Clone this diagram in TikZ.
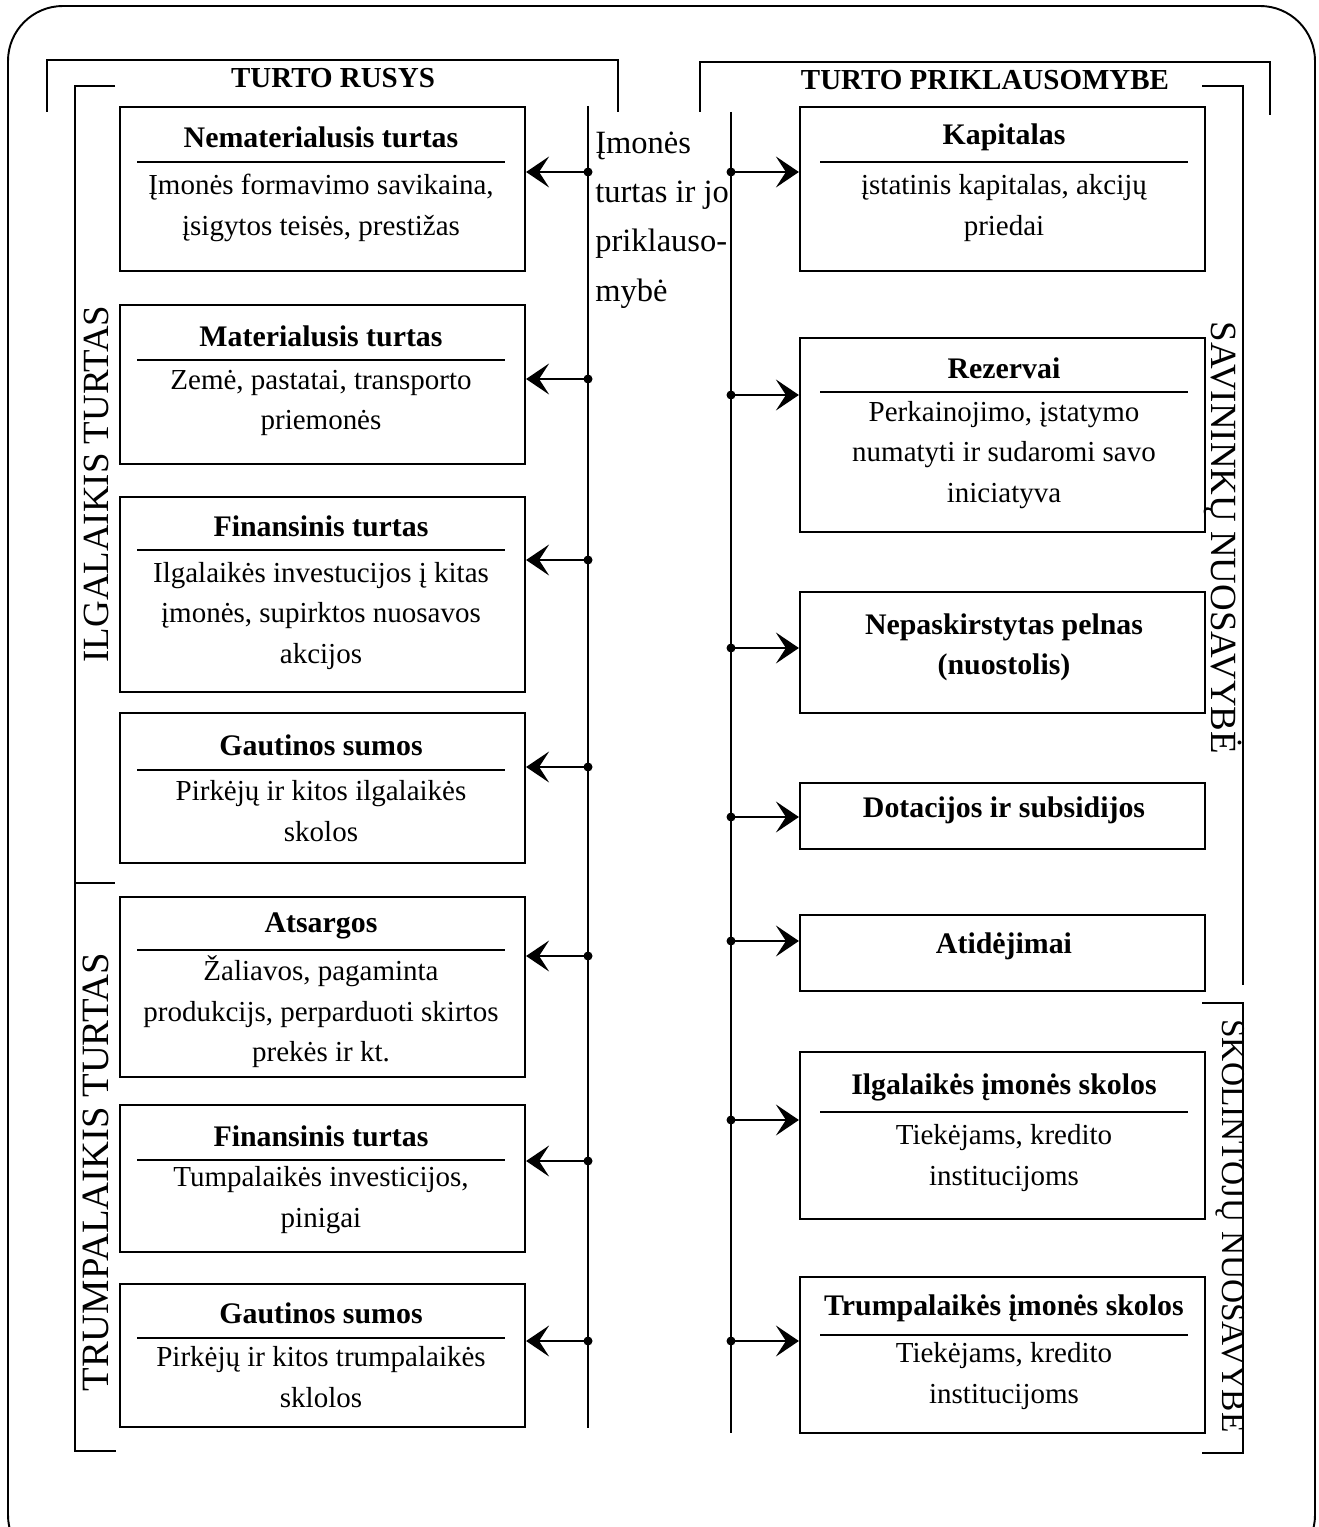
\documentclass[tikz,border=0pt]{standalone}
\usepackage{fontspec}
\setmainfont{Liberation Serif}
\usetikzlibrary{arrows.meta}

\tikzset{
  box/.style={draw, line width=1.3pt, minimum width=8.1cm, inner sep=0pt},
  head/.style={font=\fontsize{17}{23}\selectfont\bfseries, align=center, inner sep=0pt},
  body/.style={font=\fontsize{16.5}{23}\selectfont, align=center, inner sep=0pt},
  rulebar/.style={line width=1.2pt},
  bracket/.style={line width=1.2pt},
  trunk/.style={line width=1.1pt},
  link/.style={line width=1.1pt, -{Stealth[length=0.46cm, width=0.62cm, inset=0.2cm]}},
  side/.style={font=\fontsize{21}{24}\selectfont, inner sep=0pt},
}

\begin{document}
\begin{tikzpicture}[x=0.02cm, y=-0.02cm]
    \useasboundingbox (0,0) rectangle (1318,1527);

    % Frame
    \draw[line width=1.1pt, rounded corners=1.1cm] (8,6) rectangle (1315,1570);

    % Headings
    \draw[bracket] (47,112) -- (47,60) -- (618,60) -- (618,112);
    \node[head, font=\fontsize{16.5}{20}\selectfont\bfseries] (rusys) at (333,78) {TURTO RUSYS};
    \draw[bracket] (700,112) -- (700,62) -- (1270,62) -- (1270,115);
    \node[head, font=\fontsize{16.5}{20}\selectfont\bfseries] (priklaus) at (985,80) {TURTO PRIKLAUSOMYBE};

    % Side brackets
    \draw[bracket] (115,86) -- (75,86) -- (75,1451) -- (116,1451);
    \draw[bracket] (75,883) -- (115,883);
    \draw[bracket] (1202,86) -- (1243,86) -- (1243,985);
    \draw[bracket] (1202,1003) -- (1243,1003) -- (1243,1453) -- (1202,1453);

    % Side labels
    \node[side, rotate=90] (ilgal) at (96,484) {ILGALAIKIS TURTAS};
    \node[side, rotate=90, font=\fontsize{22}{24}\selectfont] (trump) at (96,1172) {TRUMPALAIKIS TURTAS};
    \node[side, rotate=-90] (savin) at (1223,538) {SAVININKŲ NUOSAVYBĖ};
    \node[side, rotate=-90, font=\fontsize{19}{24}\selectfont] (skolin) at (1230,1226) {SKOLINTOJŲ NUOSAVYBE};

    % Centre text and trunks
    \node[body, font=\fontsize{18.5}{28}\selectfont, align=left, anchor=west] (imone) at (595,220) {Įmonės\\turtas ir jo\\priklauso-\\mybė};
    \draw[trunk] (588,106) -- (588,1428);
    \draw[trunk] (731,112) -- (731,1433);

    % Left column: turto rusys
    \node[box, minimum height=3.28cm] (nemat) at (322.5,189) {};
    \node[head] (nemat-h) at (321,137) {Nematerialusis turtas};
    \draw[rulebar] (137,162) -- (505,162);
    \node[body] (nemat-b) at (321,208) {Įmonės formavimo savikaina,\\įsigytos teisės, prestižas};

    \node[box, minimum height=3.18cm] (mater) at (322.5,384.5) {};
    \node[head] (mater-h) at (321,336) {Materialusis turtas};
    \draw[rulebar] (137,360) -- (505,360);
    \node[body] (mater-b) at (321,403) {Zemė, pastatai, transporto\\priemonės};

    \node[box, minimum height=3.9cm] (finil) at (322.5,594.5) {};
    \node[head] (finil-h) at (321,526) {Finansinis turtas};
    \draw[rulebar] (137,550) -- (505,550);
    \node[body] (finil-b) at (321,616) {Ilgalaikės investucijos į kitas\\įmonės, supirktos nuosavos\\akcijos};

    \node[box, minimum height=3.0cm] (gautil) at (322.5,788) {};
    \node[head] (gautil-h) at (321,745) {Gautinos sumos};
    \draw[rulebar] (137,770) -- (505,770);
    \node[body] (gautil-b) at (321,811) {Pirkėjų ir kitos ilgalaikės\\skolos};

    \node[box, minimum height=3.6cm] (atsarg) at (322.5,987) {};
    \node[head] (atsarg-h) at (321,926) {Atsargos};
    \draw[rulebar] (137,950) -- (505,950);
    \node[body] (atsarg-b) at (321,1012) {Žaliavos, pagaminta\\produkcijs, perparduoti skirtos\\prekės ir kt.};

    \node[box, minimum height=2.94cm] (fintr) at (322.5,1178.5) {};
    \node[head] (fintr-h) at (321,1136) {Finansinis turtas};
    \draw[rulebar] (137,1160) -- (505,1160);
    \node[body] (fintr-b) at (321,1200) {Tumpalaikės investicijos,\\pinigai};

    \node[box, minimum height=2.86cm] (gauttr) at (322.5,1355.5) {};
    \node[head] (gauttr-h) at (321,1313) {Gautinos sumos};
    \draw[rulebar] (137,1338) -- (505,1338);
    \node[body] (gauttr-b) at (321,1377) {Pirkėjų ir kitos trumpalaikės\\sklolos};

    % Right column: turto priklausomybe
    \node[box, minimum height=3.28cm] (kapit) at (1002.5,189) {};
    \node[head] (kapit-h) at (1004,137) {Kapitalas};
    \draw[rulebar] (820,162) -- (1188,162);
    \node[body] (kapit-b) at (1004,208) {įstatinis kapitalas, akcijų\\priedai};

    \node[box, minimum height=3.88cm] (rezerv) at (1002.5,435) {};
    \node[head] (rezerv-h) at (1004,368) {Rezervai};
    \draw[rulebar] (820,392) -- (1188,392);
    \node[body] (rezerv-b) at (1004,455) {Perkainojimo, įstatymo\\numatyti ir sudaromi savo\\iniciatyva};

    \node[box, minimum height=2.42cm] (pelnas) at (1002.5,652.5) {};
    \node[head] (pelnas-h) at (1004,647.5) {Nepaskirstytas pelnas\\(nuostolis)};

    \node[box, minimum height=1.32cm] (dotac) at (1002.5,816) {};
    \node[head] (dotac-h) at (1004,810) {Dotacijos ir subsidijos};

    \node[box, minimum height=1.52cm] (atidej) at (1002.5,953) {};
    \node[head] (atidej-h) at (1004,946) {Atidėjimai};

    \node[box, minimum height=3.34cm] (skolil) at (1002.5,1135.5) {};
    \node[head] (skolil-h) at (1004,1087) {Ilgalaikės įmonės skolos};
    \draw[rulebar] (820,1112) -- (1188,1112);
    \node[body] (skolil-b) at (1004,1158) {Tiekėjams, kredito\\institucijoms};

    \node[box, minimum height=3.12cm] (skoltr) at (1002.5,1355) {};
    \node[head] (skoltr-h) at (1004,1308) {Trumpalaikės įmonės skolos};
    \draw[rulebar] (820,1335) -- (1188,1335);
    \node[body] (skoltr-b) at (1004,1376) {Tiekėjams, kredito\\institucijoms};

    % Arrows from the trunks
    \foreach \n/\y in {nemat/172, mater/379, finil/560, gautil/767, atsarg/956, fintr/1161, gauttr/1341} {
        \coordinate (l-\n) at (588,\y);
        \fill (l-\n) circle (0.09cm);
        \draw[link] (l-\n) -- (\n.east |- l-\n);
    }
    \foreach \n/\y in {kapit/172, rezerv/395, pelnas/648, dotac/817, atidej/941, skolil/1120, skoltr/1341} {
        \coordinate (r-\n) at (731,\y);
        \fill (r-\n) circle (0.09cm);
        \draw[link] (r-\n) -- (\n.west |- r-\n);
    }
\end{tikzpicture}
\end{document}
